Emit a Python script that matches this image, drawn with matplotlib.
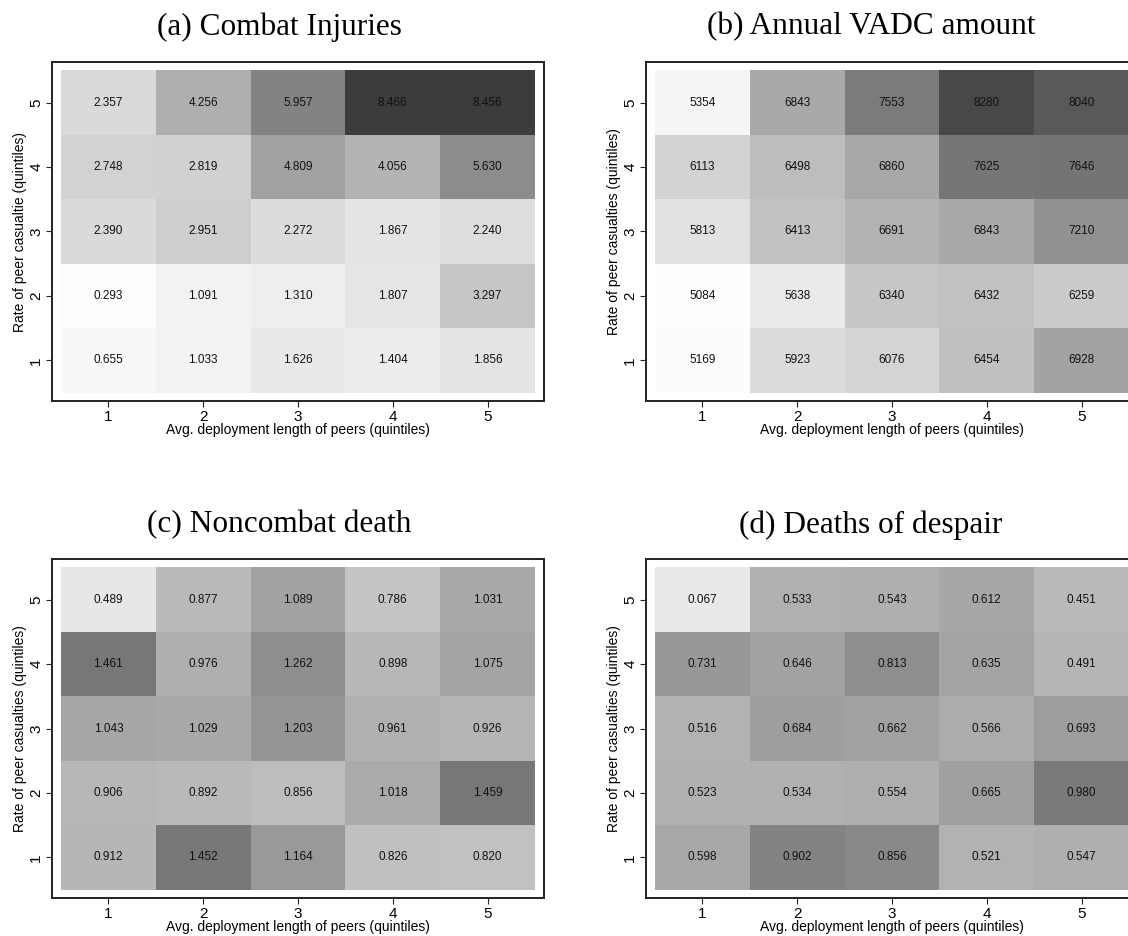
import matplotlib.pyplot as plt
import numpy as np
from matplotlib.colors import Normalize, PowerNorm

plt.rcParams["font.family"] = ["Liberation Sans", "DejaVu Sans"]

quintiles = [1, 2, 3, 4, 5]
x_label = "Avg. deployment length of peers (quintiles)"

combat_injuries = [
    [2.357, 4.256, 5.957, 8.466, 8.456],
    [2.748, 2.819, 4.809, 4.056, 5.630],
    [2.390, 2.951, 2.272, 1.867, 2.240],
    [0.293, 1.091, 1.310, 1.807, 3.297],
    [0.655, 1.033, 1.626, 1.404, 1.856],
]
vadc_amount = [
    [5354, 6843, 7553, 8280, 8040],
    [6113, 6498, 6860, 7625, 7646],
    [5813, 6413, 6691, 6843, 7210],
    [5084, 5638, 6340, 6432, 6259],
    [5169, 5923, 6076, 6454, 6928],
]
noncombat_death = [
    [0.489, 0.877, 1.089, 0.786, 1.031],
    [1.461, 0.976, 1.262, 0.898, 1.075],
    [1.043, 1.029, 1.203, 0.961, 0.926],
    [0.906, 0.892, 0.856, 1.018, 1.459],
    [0.912, 1.452, 1.164, 0.826, 0.820],
]
deaths_of_despair = [
    [0.067, 0.533, 0.543, 0.612, 0.451],
    [0.731, 0.646, 0.813, 0.635, 0.491],
    [0.516, 0.684, 0.662, 0.566, 0.693],
    [0.523, 0.534, 0.554, 0.665, 0.980],
    [0.598, 0.902, 0.856, 0.521, 0.547],
]

W, H = 1128, 936
fig = plt.figure(figsize=(W / 100, H / 100), dpi=100, facecolor="white")

# (title, y label, values, number format, norm, left px, top px, title centre x px, title y px)
panels = [
    ("(a) Combat Injuries", "Rate of peer casualtie (quintiles)", combat_injuries, "{:.3f}",
     PowerNorm(1.3, vmin=0, vmax=10.4), 52, 62, 279, 27),
    ("(b) Annual VADC amount", "Rate of peer casualties (quintiles)", vadc_amount, "{:.0f}",
     PowerNorm(1.3, vmin=5000, vmax=9232), 646, 62, 871, 27),
    ("(c) Noncombat death", "Rate of peer casualties (quintiles)", noncombat_death, "{:.3f}",
     Normalize(0.279, 2.494), 52, 559, 279, 525),
    ("(d) Deaths of despair", "Rate of peer casualties (quintiles)", deaths_of_despair, "{:.3f}",
     Normalize(-0.119, 1.986), 646, 559, 871, 525),
]

aw, ah = 492, 339
edges = np.arange(0.5, 6.0, 1.0)

for title, ylab, vals, fmt, norm, lx, ty, tx, tyy in panels:
    ax = fig.add_axes([lx / W, 1 - (ty + ah) / H, aw / W, ah / H])
    grid = np.flipud(np.array(vals, dtype=float))
    ax.pcolormesh(edges, edges, grid, cmap="gray_r", norm=norm, shading="flat")
    for i, yq in enumerate(quintiles):
        for j, xq in enumerate(quintiles):
            ax.text(xq, yq, fmt.format(grid[i, j]), ha="center", va="center",
                    fontsize=8.5, color="#111111")
    ax.set_xlim(0.405, 5.595)
    ax.set_ylim(0.37, 5.63)
    ax.set_xticks(quintiles)
    ax.set_yticks(quintiles)
    ax.tick_params(axis="both", direction="out", length=4.3, width=0.8,
                   labelsize=11, pad=2, color="#222222")
    ax.tick_params(axis="y", labelrotation=90)
    for lab in ax.get_yticklabels():
        lab.set_va("center")
    for sp in ax.spines.values():
        sp.set_linewidth(1.4)
        sp.set_color("#222222")
    ax.set_xlabel(x_label, fontsize=10)
    ax.xaxis.set_label_coords(0.5, -29 / ah)
    ax.xaxis.label.set_va("center")
    ax.set_ylabel(ylab, fontsize=10)
    ax.yaxis.set_label_coords(-32 / aw, 0.5)
    ax.yaxis.label.set_va("center")
    fig.text(tx / W, 1 - tyy / H, title, ha="center", va="center",
             fontsize=22.5, family=["Liberation Serif", "DejaVu Serif"])

fig.savefig("out.png", dpi=100, facecolor="white")
